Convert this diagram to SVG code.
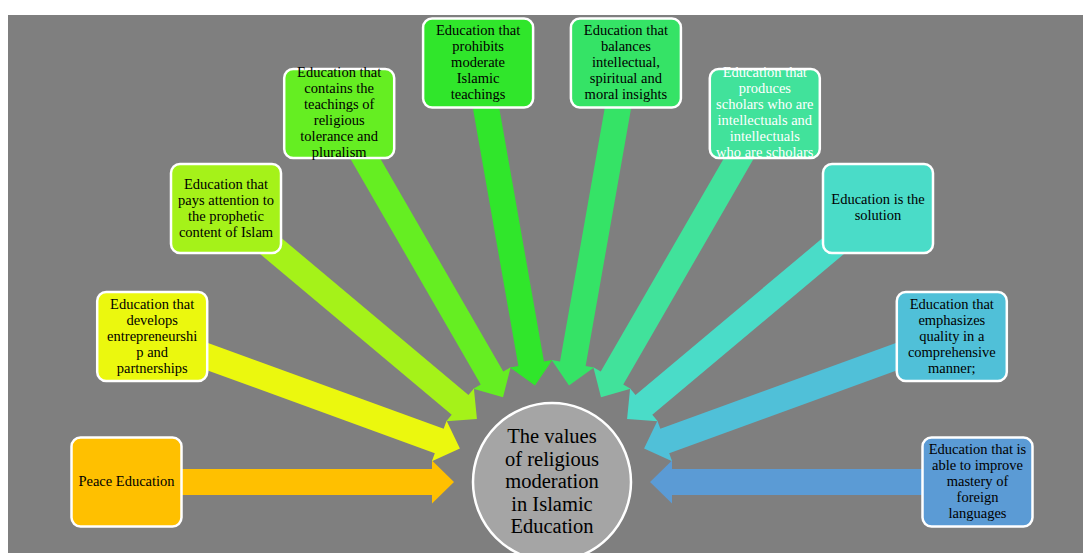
<svg xmlns="http://www.w3.org/2000/svg" xmlns:xlink="http://www.w3.org/1999/xlink" width="1083" height="553" viewBox="0 0 1083 553">
<style>
.box{stroke:#ffffff;stroke-width:2.5}
.lbl{font-family:"Liberation Serif","Times New Roman",serif;font-size:14.5px;fill:#000000;text-anchor:middle}
.wht{fill:#ffffff}
.ctr{font-family:"Liberation Serif","Times New Roman",serif;font-size:20.5px;fill:#000000;text-anchor:middle}
</style>
<defs>
<path id="arrow" d="M126.5,469 L432,469 L432,460.5 L454,482 L432,503.5 L432,495 L126.5,495 Z"/>
</defs>
<rect x="8" y="15" width="1075" height="538" fill="#7f7f7f"/>
<g id="connectors">
<use xlink:href="#arrow" href="#arrow" fill="#ffc000"/>
<use xlink:href="#arrow" href="#arrow" fill="#ebf80e" transform="rotate(20 552 482)"/>
<use xlink:href="#arrow" href="#arrow" fill="#a5f219" transform="rotate(40 552 482)"/>
<use xlink:href="#arrow" href="#arrow" fill="#65ee22" transform="rotate(60 552 482)"/>
<use xlink:href="#arrow" href="#arrow" fill="#30e62b" transform="rotate(80 552 482)"/>
<use xlink:href="#arrow" href="#arrow" fill="#35e366" transform="rotate(100 552 482)"/>
<use xlink:href="#arrow" href="#arrow" fill="#41e29b" transform="rotate(120 552 482)"/>
<use xlink:href="#arrow" href="#arrow" fill="#4adcc8" transform="rotate(140 552 482)"/>
<use xlink:href="#arrow" href="#arrow" fill="#50c0d8" transform="rotate(160 552 482)"/>
<use xlink:href="#arrow" href="#arrow" fill="#5b9bd5" transform="rotate(180 552 482)"/>
</g>
<g id="node-peace">
<rect class="box" x="71.5" y="437.5" width="110" height="89" rx="9" fill="#ffc000"/>
<text class="lbl" x="126.5" y="486">Peace Education</text>
</g>
<g id="node-entrepreneurship">
<rect class="box" x="97.2" y="292" width="110" height="89" rx="9" fill="#ebf80e"/>
<text class="lbl" x="152.2"><tspan x="152.2" y="308.5">Education that</tspan><tspan x="152.2" y="324.5">develops</tspan><tspan x="152.2" y="340.5">entrepreneurshi</tspan><tspan x="152.2" y="356.5">p and</tspan><tspan x="152.2" y="372.5">partnerships</tspan></text>
</g>
<g id="node-prophetic">
<rect class="box" x="171" y="164" width="110" height="89" rx="9" fill="#a5f219"/>
<text class="lbl" x="226"><tspan x="226" y="188.5">Education that</tspan><tspan x="226" y="204.5">pays attention to</tspan><tspan x="226" y="220.5">the prophetic</tspan><tspan x="226" y="236.5">content of Islam</tspan></text>
</g>
<g id="node-tolerance">
<rect class="box" x="284.2" y="69" width="110" height="89" rx="9" fill="#65ee22"/>
<text class="lbl" x="339.2"><tspan x="339.2" y="76.5">Education that</tspan><tspan x="339.2" y="92.5">contains the</tspan><tspan x="339.2" y="108.5">teachings of</tspan><tspan x="339.2" y="124.5">religious</tspan><tspan x="339.2" y="140.5">tolerance and</tspan><tspan x="339.2" y="156.5">pluralism</tspan></text>
</g>
<g id="node-prohibits">
<rect class="box" x="423.1" y="18.5" width="110" height="89" rx="9" fill="#30e62b"/>
<text class="lbl" x="478.1"><tspan x="478.1" y="34.5">Education that</tspan><tspan x="478.1" y="50.5">prohibits</tspan><tspan x="478.1" y="66.5">moderate</tspan><tspan x="478.1" y="82.5">Islamic</tspan><tspan x="478.1" y="98.5">teachings</tspan></text>
</g>
<g id="node-balances">
<rect class="box" x="570.9" y="18.5" width="110" height="89" rx="9" fill="#35e366"/>
<text class="lbl" x="625.9"><tspan x="625.9" y="34.5">Education that</tspan><tspan x="625.9" y="50.5">balances</tspan><tspan x="625.9" y="66.5">intellectual,</tspan><tspan x="625.9" y="82.5">spiritual and</tspan><tspan x="625.9" y="98.5">moral insights</tspan></text>
</g>
<g id="node-scholars">
<rect class="box" x="709.8" y="69" width="110" height="89" rx="9" fill="#41e29b"/>
<text class="lbl wht" x="764.8"><tspan x="764.8" y="76.5">Education that</tspan><tspan x="764.8" y="92.5">produces</tspan><tspan x="764.8" y="108.5">scholars who are</tspan><tspan x="764.8" y="124.5">intellectuals and</tspan><tspan x="764.8" y="140.5">intellectuals</tspan><tspan x="764.8" y="156.5">who are scholars</tspan></text>
</g>
<g id="node-solution">
<rect class="box" x="823" y="164" width="110" height="89" rx="9" fill="#4adcc8"/>
<text class="lbl" x="878"><tspan x="878" y="204">Education is the</tspan><tspan x="878" y="220">solution</tspan></text>
</g>
<g id="node-quality">
<rect class="box" x="896.8" y="292" width="110" height="89" rx="9" fill="#50c0d8"/>
<text class="lbl" x="951.8"><tspan x="951.8" y="308.5">Education that</tspan><tspan x="951.8" y="324.5">emphasizes</tspan><tspan x="951.8" y="340.5">quality in a</tspan><tspan x="951.8" y="356.5">comprehensive</tspan><tspan x="951.8" y="372.5">manner;</tspan></text>
</g>
<g id="node-languages">
<rect class="box" x="922.5" y="437.5" width="110" height="89" rx="9" fill="#5b9bd5"/>
<text class="lbl" x="977.5"><tspan x="977.5" y="454">Education that is</tspan><tspan x="977.5" y="470">able to improve</tspan><tspan x="977.5" y="486">mastery of</tspan><tspan x="977.5" y="502">foreign</tspan><tspan x="977.5" y="518">languages</tspan></text>
</g>
<g id="node-center">
<circle cx="552" cy="482" r="79" fill="#a5a5a5" stroke="#ffffff" stroke-width="2.5"/>
<text class="ctr" x="552"><tspan x="552" y="443">The values</tspan><tspan x="552" y="465.6">of religious</tspan><tspan x="552" y="488.2">moderation</tspan><tspan x="552" y="510.8">in Islamic</tspan><tspan x="552" y="533.4">Education</tspan></text>
</g>
</svg>
